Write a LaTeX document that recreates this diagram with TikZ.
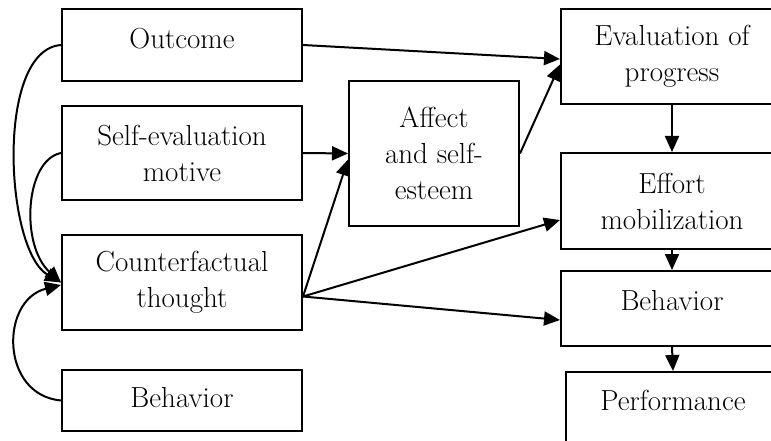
\documentclass[tikz,border=0pt]{standalone}
\usepackage{tikz}
\usetikzlibrary{arrows.meta,positioning}
\tikzset{
  >={Triangle[length=16pt,width=14pt]},
  flow/.style={->,line width=2pt},
  box/.style={draw,line width=2pt,align=center,inner sep=0pt,
    font=\fontsize{29}{36}\selectfont}
}
\begin{document}
\begin{tikzpicture}[x=1pt,y=-1pt]
  \useasboundingbox (0,0) rectangle (771,441);
  % left column
  \node[box,minimum width=240pt,minimum height=72pt,text depth=14pt] (outcome) at (182,45) {Outcome};
  \node[box,minimum width=240pt,minimum height=94pt] (selfeval) at (182,153) {Self-evaluation\\motive};
  \node[box,minimum width=240pt,minimum height=95pt] (counter) at (182,282.5) {Counterfactual\\thought};
  \node[box,minimum width=240pt,minimum height=61pt,text depth=7pt] (behavL) at (182,400.5) {Behavior};
  % middle
  \node[box,minimum width=170pt,minimum height=145pt] (affect) at (434,153.5) {Affect\\and self-\\esteem};
  % right column
  \node[box,minimum width=222pt,minimum height=95pt] (evalp) at (672,56.5) {Evaluation of\\progress};
  \node[box,minimum width=222pt,minimum height=96pt] (effort) at (672,201) {Effort\\mobilization};
  \node[box,minimum width=222pt,minimum height=75pt,text depth=16pt] (behavR) at (672,308.5) {Behavior};
  \node[box,minimum width=214pt,minimum height=78pt,text depth=22pt] (perf) at (673,411) {Performance};
  % straight arrows
  \draw[flow] (outcome.east) -- ([yshift=-2.5pt]evalp.west);
  \draw[flow] (selfeval.east) -- (affect.west);
  \draw[flow] (affect.east) -- ([yshift=-8pt]evalp.west);
  \draw[flow] ([yshift=-14pt]counter.east) -- ([yshift=-6pt]affect.west);
  \draw[flow] ([yshift=-14pt]counter.east) -- ([yshift=-19pt]effort.west);
  \draw[flow] ([yshift=-14pt]counter.east) -- ([yshift=-11.5pt]behavR.west);
  \draw[flow] (evalp.south) -- (effort.north);
  \draw[flow] (effort.south) -- (behavR.north);
  \draw[flow] (behavR.south) -- (perf.north);
  % curved arrows on the left
  \draw[flow] (outcome.west) .. controls (-5,50) and (5,250) .. (counter.west);
  \draw[flow] (selfeval.west) .. controls (25,160) and (20,245) .. (counter.west);
  \draw[flow] (behavL.west) .. controls (0,395) and (0,300) .. ([yshift=-2.5pt]counter.west);
\end{tikzpicture}
\end{document}
